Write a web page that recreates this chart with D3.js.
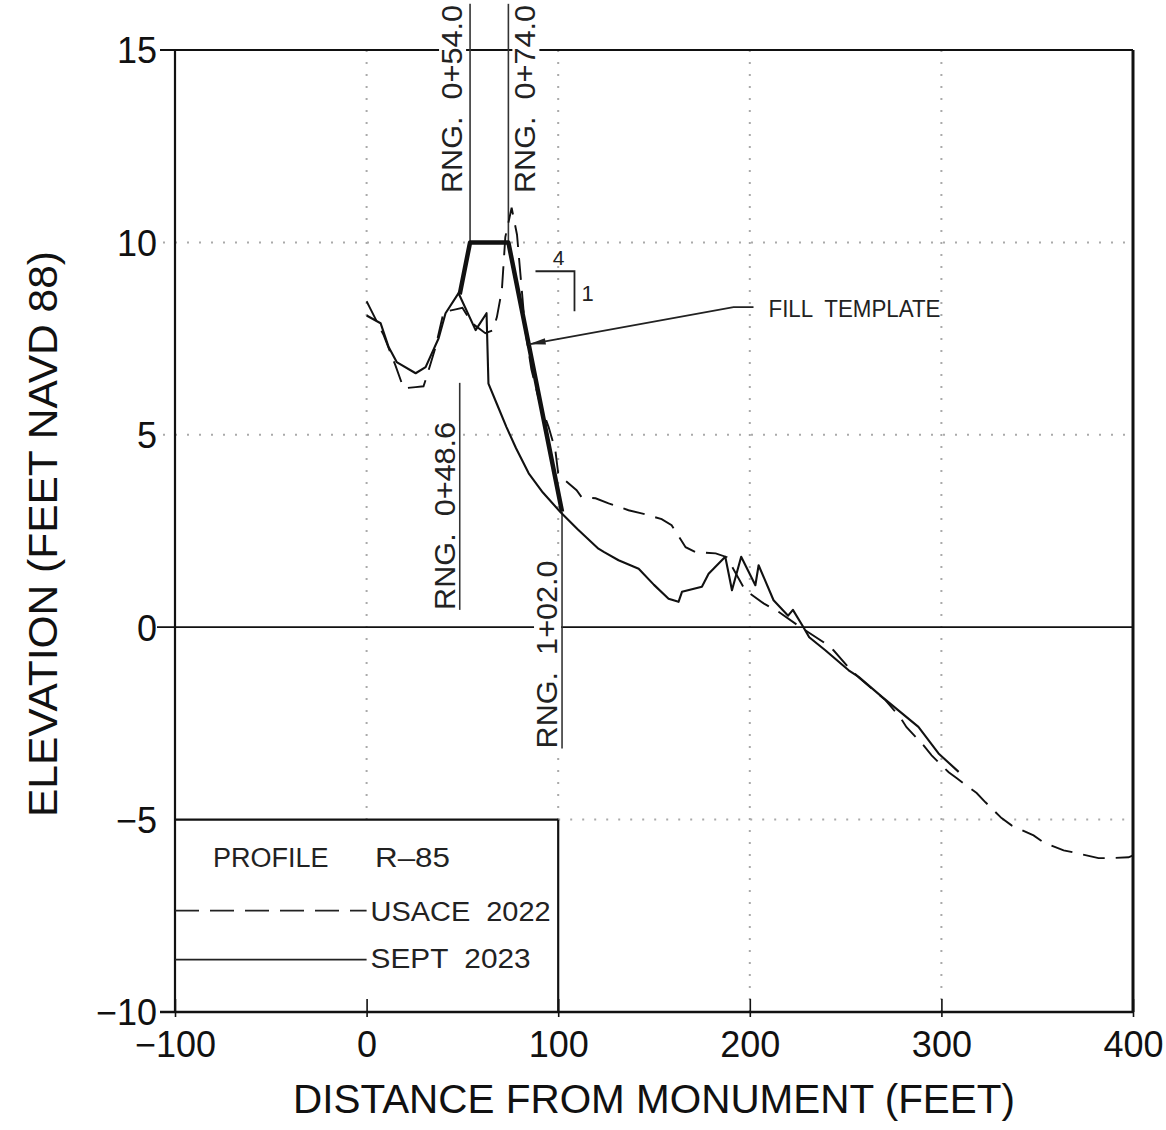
<!DOCTYPE html>
<html lang="en">
<head>
    <meta charset="UTF-8">
    <title>Profile R-85</title>
    <script src="https://cdnjs.cloudflare.com/ajax/libs/d3/7.8.5/d3.min.js"></script>
    <style>
        body { margin: 0; background: #fff; }
        svg { display: block; font-family: "Liberation Sans", Arial, sans-serif; }
        svg text { white-space: pre; }
    </style>
</head>
<body>
    <div id="wrapper"></div>
    <script>
        // values: [distance (ft), elevation (ft NAVD 88)]
        const xTicks = [-100, 0, 100, 200, 300, 400]
        const yTicks = [-10, -5, 0, 5, 10, 15]

        const usace2022 = [
            [0, 8.47], [8.9, 7.59], [15, 6.81], [19.3, 6.21], [25.6, 6.24], [29.7, 6.26],
            [31.3, 6.5], [36, 7.28], [40.2, 8.19], [46.5, 8.26], [50, 8.3], [55, 7.9],
            [62, 7.64], [66, 7.72], [68, 8.06], [70.6, 8.76], [72.4, 10.14], [75.7, 10.9],
            [78.5, 10.2], [81, 8.76], [82.8, 7.72], [86, 6.7], [90, 5.9], [95, 5.2],
            [98.5, 4.6], [100, 4.0], [104, 3.8], [109.6, 3.56], [112.2, 3.38], [119.5, 3.35],
            [126.3, 3.22], [136.7, 3.04], [143.5, 2.96], [154, 2.81], [159.2, 2.65], [166.5, 2.08],
            [171.7, 1.95], [182.2, 1.92], [188, 1.82], [197.6, 0.96], [207.2, 0.62], [215, 0.4],
            [225, 0.05], [229, -0.08], [238.5, -0.39], [243.7, -0.6], [251.4, -1.04], [256.8, -1.3],
            [270.9, -1.9], [278.7, -2.36], [281.8, -2.6], [290.7, -3.07], [294.9, -3.33], [303.8, -3.77],
            [307.9, -3.92], [318.4, -4.31], [323, -4.55], [331.4, -4.96], [336.6, -5.15], [348.1, -5.41],
            [353.3, -5.59], [363.8, -5.8], [370.6, -5.87], [382, -6.0], [388.8, -6.0], [397.7, -5.98],
            [400, -5.93]
        ]

        const sept2023 = [
            [0, 8.1], [7.3, 7.9], [11.5, 7.28], [15.7, 6.89], [25.6, 6.6], [30.8, 6.76],
            [37.6, 7.51], [41.2, 8.16], [48, 8.68], [56.9, 7.72], [62.6, 8.16], [63.6, 6.33],
            [68, 5.8], [73, 5.2], [78, 4.65], [84.6, 4.0], [92, 3.5], [101, 3.0],
            [110, 2.55], [121, 2.04], [124, 1.95], [131.5, 1.74], [142, 1.52], [150, 1.1],
            [157.6, 0.74], [162.8, 0.66], [164.6, 0.92], [175, 1.05], [178.5, 1.39], [187.2, 1.83],
            [190.7, 0.96], [195.5, 1.83], [202.9, 1.09], [204.6, 1.61], [212.4, 0.7], [220, 0.3],
            [222.5, 0.45], [228, 0], [231, -0.26], [239.4, -0.6], [251.6, -1.12], [256.8, -1.29],
            [269, -1.81], [288, -2.59], [298.5, -3.28], [309, -3.76]
        ]

        const fillTemplate = [[48.6, 8.65], [54, 10], [74, 10], [102, 3]]

        const rangeStations = [54, 74, 48.6, 102]
        const rangeLabels = ['RNG.  0+54.0', 'RNG.  0+74.0', 'RNG.  0+48.6', 'RNG.  1+02.0']
        const rangeSpans = [[10, 16.2], [10, 16.2], [0.45, 6.35], [-3.15, 3]]

        const legendTitle = ['PROFILE', 'R–85']
        const legendLabels = ['USACE  2022', 'SEPT  2023']
        const slopeLabels = ['4', '1']
        const fillLabel = 'FILL  TEMPLATE'

        function drawProfile() {
            const width = 1166
            const height = 1130
            const margin = { top: 50, right: 33, bottom: 118, left: 175 }
            const ink = '#111'

            const svg = d3.select('#wrapper')
                .append('svg')
                    .attr('width', width)
                    .attr('height', height)
                    .attr('viewBox', `0 0 ${width} ${height}`)

            const x = d3.scaleLinear()
                .domain([-100, 400])
                .range([margin.left, width - margin.right])
            const y = d3.scaleLinear()
                .domain([-10, 15])
                .range([height - margin.bottom, margin.top])

            // dotted grid
            const grid = svg.append('g')
                .attr('stroke', '#aaa')
                .attr('stroke-width', 2)
                .attr('stroke-dasharray', '2,10')
            const vGrid = [[0, -5], [100, -5], [200, -10], [300, -10]]
            vGrid.forEach(([gx, bottom]) => {
                grid.append('line')
                    .attr('x1', x(gx)).attr('x2', x(gx))
                    .attr('y1', y(15)).attr('y2', y(bottom))
            })
            const hGrid = [[10, -100], [5, -100], [-5, 100]]
            hGrid.forEach(([gy, left]) => {
                grid.append('line')
                    .attr('x1', left === -100 ? x(left) - 12 : x(left)).attr('x2', x(400))
                    .attr('y1', y(gy)).attr('y2', y(gy))
            })

            // frame and solid reference lines
            const frame = svg.append('g').attr('stroke', ink)
            frame.append('line')
                .attr('x1', x(-100) - 15).attr('x2', x(400))
                .attr('y1', y(15)).attr('y2', y(15))
                .attr('stroke-width', 2)
            frame.append('line')
                .attr('x1', x(-100) - 15).attr('x2', x(400))
                .attr('y1', y(-10)).attr('y2', y(-10))
                .attr('stroke-width', 2.5)
            frame.append('line')
                .attr('x1', x(-100) - 18).attr('x2', x(400))
                .attr('y1', y(0)).attr('y2', y(0))
                .attr('stroke-width', 1.8)
            frame.append('line')
                .attr('x1', x(-100)).attr('x2', x(-100))
                .attr('y1', y(15)).attr('y2', y(-10))
                .attr('stroke-width', 2.2)
            frame.append('line')
                .attr('x1', x(400)).attr('x2', x(400))
                .attr('y1', y(15)).attr('y2', y(-10))
                .attr('stroke-width', 3)

            // legend box
            frame.append('line')
                .attr('x1', x(-100)).attr('x2', x(100))
                .attr('y1', y(-5)).attr('y2', y(-5))
                .attr('stroke-width', 2.2)
            frame.append('line')
                .attr('x1', x(100)).attr('x2', x(100))
                .attr('y1', y(-5)).attr('y2', y(-10))
                .attr('stroke-width', 2.2)

            // axes
            svg.append('g')
                .attr('transform', `translate(0,${y(-10)})`)
                .call(d3.axisBottom(x).tickValues(xTicks).tickSizeInner(-13).tickSizeOuter(0))
                .call(g => g.select('.domain').remove())
                .call(g => g.selectAll('.tick line')
                    .attr('y1', 5).attr('stroke', ink).attr('stroke-width', 1.6))
                .call(g => g.selectAll('.tick text')
                    .attr('y', 45).attr('dy', null)
                    .attr('fill', ink)
                    .attr('font-size', 36)
                    .attr('font-family', '"Liberation Sans", Arial, sans-serif'))

            svg.append('g')
                .attr('transform', `translate(${x(-100)},0)`)
                .call(d3.axisLeft(y).tickValues(yTicks).tickSize(0).tickPadding(18))
                .call(g => g.select('.domain').remove())
                .call(g => g.selectAll('.tick text')
                    .attr('dy', '0.36em')
                    .attr('fill', ink)
                    .attr('font-size', 36)
                    .attr('font-family', '"Liberation Sans", Arial, sans-serif'))

            svg.append('text')
                .attr('x', (x(-100) + x(400)) / 2)
                .attr('y', 1113)
                .attr('text-anchor', 'middle')
                .attr('font-size', 41)
                .attr('fill', ink)
                .attr('textLength', 722)
                .attr('lengthAdjust', 'spacingAndGlyphs')
                .text('DISTANCE FROM MONUMENT (FEET)')

            svg.append('text')
                .attr('transform', `translate(57,${(y(15) + y(-10)) / 2 + 3}) rotate(-90)`)
                .attr('text-anchor', 'middle')
                .attr('font-size', 40)
                .attr('fill', ink)
                .attr('textLength', 566)
                .attr('lengthAdjust', 'spacingAndGlyphs')
                .text('ELEVATION (FEET NAVD 88)')

            // range lines with knocked-out labels
            const labelPlacement = [
                { dx: -8, start: () => 193 },
                { dx: 27, start: () => 193 },
                { dx: -5, start: i => y(rangeSpans[i][0]) },
                { dx: -5, start: i => y(rangeSpans[i][0]) },
            ]
            rangeStations.forEach((station, i) => {
                const px = x(station)
                svg.append('line')
                    .attr('x1', px).attr('x2', px)
                    .attr('y1', y(rangeSpans[i][0])).attr('y2', y(rangeSpans[i][1]))
                    .attr('stroke', '#333')
                    .attr('stroke-width', 1.6)

                const place = labelPlacement[i]
                const g = svg.append('g')
                    .attr('transform', `translate(${px + place.dx},${place.start(i)}) rotate(-90)`)
                const bg = g.append('rect').attr('fill', '#fff')
                const label = g.append('text')
                    .attr('font-size', 30)
                    .attr('fill', '#222')
                    .attr('textLength', 188)
                    .attr('lengthAdjust', 'spacingAndGlyphs')
                    .text(rangeLabels[i])
                const box = label.node().getBBox()
                bg.attr('x', box.x - 1).attr('y', box.y + 4)
                    .attr('width', box.width + 2).attr('height', box.height - 6)
            })

            // profiles
            const line = d3.line()
                .x(d => x(d[0]))
                .y(d => y(d[1]))

            svg.append('path')
                .attr('d', line(usace2022))
                .attr('fill', 'none')
                .attr('stroke', ink)
                .attr('stroke-width', 1.9)
                .attr('stroke-dasharray', '22,11')

            svg.append('path')
                .attr('d', line(sept2023))
                .attr('fill', 'none')
                .attr('stroke', ink)
                .attr('stroke-width', 2.1)
                .attr('stroke-linejoin', 'round')

            svg.append('path')
                .attr('d', line(fillTemplate))
                .attr('fill', 'none')
                .attr('stroke', ink)
                .attr('stroke-width', 4.5)
                .attr('stroke-linejoin', 'round')

            // 4:1 slope symbol
            const sx = x(108.5)
            const sy = y(9.25)
            svg.append('path')
                .attr('d', `M${sx - 39},${sy}H${sx}V${sy + 40}`)
                .attr('fill', 'none')
                .attr('stroke', '#222')
                .attr('stroke-width', 1.8)
            svg.append('text')
                .attr('x', sx - 16).attr('y', sy - 6)
                .attr('text-anchor', 'middle')
                .attr('font-size', 21)
                .attr('fill', '#222')
                .text(slopeLabels[0])
            svg.append('text')
                .attr('x', sx + 7).attr('y', sy + 30)
                .attr('font-size', 22)
                .attr('fill', '#222')
                .text(slopeLabels[1])

            // fill template callout
            const tipX = 84.6
            const tipY = d3.scaleLinear().domain([74, 102]).range([10, 3])(tipX)
            const tx = x(tipX)
            const ty = y(tipY)
            const bx = x(191.5)
            const by = y(8.32)
            svg.append('path')
                .attr('d', `M${bx + 20},${by}H${bx}L${tx},${ty}`)
                .attr('fill', 'none')
                .attr('stroke', '#222')
                .attr('stroke-width', 1.8)
            const ang = Math.atan2(by - ty, bx - tx)
            const len = 17
            const half = 3.2
            const ax = tx + Math.cos(ang) * len
            const ay = ty + Math.sin(ang) * len
            svg.append('path')
                .attr('d', `M${tx},${ty}L${ax - Math.sin(ang) * half},${ay + Math.cos(ang) * half}` +
                    `L${ax + Math.sin(ang) * half},${ay - Math.cos(ang) * half}Z`)
                .attr('fill', '#222')
            svg.append('text')
                .attr('x', bx + 35).attr('y', by + 10)
                .attr('font-size', 23)
                .attr('fill', '#222')
                .attr('textLength', 172)
                .attr('lengthAdjust', 'spacingAndGlyphs')
                .text(fillLabel)

            // legend
            const lx = x(-100)
            const ly = y(-5)
            const lineEnd = x(0)
            svg.append('text')
                .attr('x', lx + 38).attr('y', ly + 47)
                .attr('font-size', 27)
                .attr('fill', '#222')
                .text(legendTitle[0])
            svg.append('text')
                .attr('x', lx + 200).attr('y', ly + 47)
                .attr('font-size', 27)
                .attr('fill', '#222')
                .attr('textLength', 75)
                .attr('lengthAdjust', 'spacingAndGlyphs')
                .text(legendTitle[1])

            const legendRows = [
                { dash: '24,11', lineY: 91, textY: 101, len: 180 },
                { dash: null, lineY: 140, textY: 148, len: 160 },
            ]
            legendRows.forEach((row, i) => {
                svg.append('line')
                    .attr('x1', lx).attr('x2', lineEnd)
                    .attr('y1', ly + row.lineY).attr('y2', ly + row.lineY)
                    .attr('stroke', '#222')
                    .attr('stroke-width', 1.8)
                    .attr('stroke-dasharray', row.dash)
                svg.append('text')
                    .attr('x', lineEnd + 4).attr('y', ly + row.textY)
                    .attr('font-size', 27)
                    .attr('fill', '#222')
                    .attr('textLength', row.len)
                    .attr('lengthAdjust', 'spacingAndGlyphs')
                    .text(legendLabels[i])
            })
        }

        drawProfile()
    </script>
</body>
</html>
